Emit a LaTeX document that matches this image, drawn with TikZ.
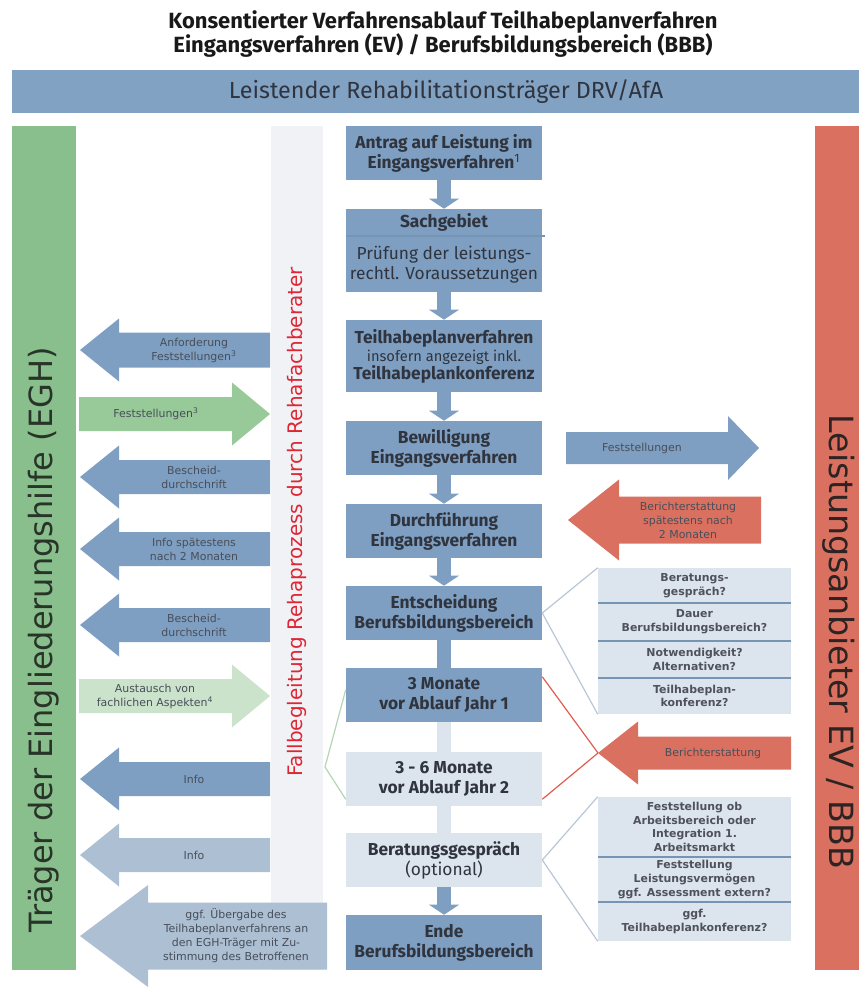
\documentclass[tikz,border=0pt]{standalone}
\usepackage{fontspec}
\setmainfont{Fira Sans}
\newfontfamily\dejavu{DejaVu Sans}
\usepackage{tikz}
\usetikzlibrary{arrows.meta,calc}

\definecolor{kopfblau}{RGB}{130,162,196}
\definecolor{boxblau}{RGB}{126,159,193}
\definecolor{hellblau}{RGB}{220,228,238}
\definecolor{graublau}{RGB}{172,191,211}
\definecolor{balkengruen}{RGB}{137,190,141}
\definecolor{pfeilgruen}{RGB}{152,201,152}
\definecolor{hellgruen}{RGB}{203,226,203}
\definecolor{lachs}{RGB}{218,113,96}
\definecolor{spalte}{RGB}{241,242,245}
\definecolor{textgrau}{RGB}{48,52,62}
\definecolor{pfeilschrift}{RGB}{72,78,90}
\definecolor{gruenschrift}{RGB}{40,52,40}
\definecolor{rotschrift}{RGB}{45,35,35}
\definecolor{rehrot}{RGB}{222,38,52}
\definecolor{linie}{RGB}{185,198,214}
\definecolor{linienrot}{RGB}{224,92,80}
\definecolor{liniengruen}{RGB}{180,212,180}
\definecolor{trennblau}{RGB}{118,148,180}

\tikzset{
  titel/.style={font=\bfseries\fontsize{16.5}{18}\selectfont, align=center, text=black!90},
  kopftext/.style={font=\fontsize{17.5}{18}\selectfont, text=textgrau},
  seitentext/.style={font=\dejavu\fontsize{24}{26}\selectfont},
  fallbegleitung/.style={font=\dejavu\fontsize{15}{16}\selectfont, text=rehrot},
  box/.style={rectangle, fill=boxblau, minimum width=147pt, minimum height=40.5pt, inner sep=1pt, align=center, text=textgrau, font=\bfseries\fontsize{13}{15}\selectfont},
  hellbox/.style={box, fill=hellblau},
  pfeiltext/.style={font=\dejavu\fontsize{8.2}{10.5}\selectfont, align=center, text=pfeilschrift, inner sep=0pt},
  zeile/.style={font=\dejavu\bfseries\fontsize{8.2}{10.3}\selectfont, align=center, text=textgrau!85, inner sep=0pt},
  tabelle/.style={rectangle, fill=hellblau, minimum width=144.75pt, inner sep=0pt},
  trenn/.style={draw=trennblau, line width=1pt},
  runter/.style={line width=10.5pt, -{Triangle[length=7.5pt,width=22.5pt,line width=0pt]}},
  steg/.style={line width=10.5pt},
  fuehrung/.style={draw=linie, line width=0.9pt},
  rotlinie/.style={draw=linienrot, line width=0.9pt},
  gruenlinie/.style={draw=liniengruen, line width=0.9pt}
}

\begin{document}
\begin{tikzpicture}[x=0.75pt,y=0.75pt,yscale=-1,xscale=1]
        \useasboundingbox (0,0) rectangle (859,987);

        % Titel
        \node[titel] (titel) at (443,34) {Konsentierter Verfahrensablauf Teilhabeplanverfahren\\Eingangsverfahren (EV) / Berufsbildungsbereich (BBB)};

        % Kopfbalken
        \fill[kopfblau] (12,70) rectangle (859,113);
        \node[kopftext] (kopf) at (446,92) {Leistender Rehabilitationsträger DRV/AfA};

        % Balken links (EGH)
        \fill[balkengruen] (12,126) rectangle (76,970);
        \node[seitentext, rotate=90, text=gruenschrift] (egh) at (44,640) {Träger der Eingliederungshilfe (EGH)};

        % Spalte Rehafachberater
        \fill[spalte] (271,126) rectangle (323,970);
        \node[fallbegleitung, rotate=90] (reha) at (297,522) {Fallbegleitung Rehaprozess durch Rehafachberater};

        % Balken rechts (Leistungsanbieter)
        \fill[lachs] (815,126) rectangle (859,970);
        \node[seitentext, rotate=-90, text=rotschrift, font=\dejavu\fontsize{25}{26}\selectfont] (anbieter) at (839,642) {Leistungsanbieter EV / BBB};

        % Ablauf Mitte
        \node[box] (antrag) at (444,153) {Antrag auf Leistung im\\Eingangsverfahren\textsuperscript{\mdseries 1}};
        \node[box, minimum height=62.25pt] (sach) at (444,250.5) {};
        \draw[trenn] (346,236) -- (545,236);
        \node[box, fill=none] (sachkopf) at (444,222) {Sachgebiet};
        \node[box, fill=none, font=\fontsize{13}{15}\selectfont] (pruefung) at (444,265) {Prüfung der leistungs-\\rechtl. Voraussetzungen};
        \node[box, minimum height=54pt, font=\bfseries\fontsize{13}{13.5}\selectfont] (tpv) at (444,356) {Teilhabeplanverfahren\\{\mdseries\fontsize{11}{13.5}\selectfont insofern angezeigt inkl.}\\Teilhabeplankonferenz};
        \node[box] (bew) at (444,448) {Bewilligung\\Eingangsverfahren};
        \node[box] (durch) at (444,531) {Durchführung\\Eingangsverfahren};
        \node[box] (entsch) at (444,613) {Entscheidung\\Berufsbildungsbereich};
        \node[box] (drei) at (444,695) {3 Monate\\vor Ablauf Jahr 1};
        \node[hellbox] (dreisechs) at (444,779) {3 - 6 Monate\\vor Ablauf Jahr 2};
        \node[hellbox] (berat) at (444,860) {Beratungsgespräch\\{\mdseries (optional)}};
        \node[box, minimum height=41.25pt] (ende) at (444,942.5) {Ende\\Berufsbildungsbereich};

        \draw[runter, draw=boxblau] (antrag) -- (sach);
        \draw[runter, draw=boxblau] (sach) -- (tpv);
        \draw[runter, draw=boxblau] (tpv) -- (bew);
        \draw[runter, draw=boxblau] (bew) -- (durch);
        \draw[runter, draw=boxblau] (durch) -- (entsch);
        \draw[steg, draw=boxblau] (entsch) -- (drei);
        \draw[steg, draw=hellblau] (drei) -- (dreisechs);
        \draw[steg, draw=hellblau] (dreisechs) -- (berat);
        \draw[runter, draw=boxblau] (berat) -- (ende);

        % Pfeile links
        \fill[boxblau] (270,332.5) -- (119,332.5) -- (119,318.5) -- (80,350) -- (119,381.5) -- (119,367.5) -- (270,367.5) -- cycle;
        \node[pfeiltext] (anf) at (194,350) {Anforderung\\Feststellungen\textsuperscript{3}};
        \fill[pfeilgruen] (79,397) -- (232,397) -- (232,382.5) -- (270,414) -- (232,445.5) -- (232,431) -- (79,431) -- cycle;
        \node[pfeiltext] (fest) at (156,414) {Feststellungen\textsuperscript{3}};
        \fill[boxblau] (270,460) -- (119,460) -- (119,445.5) -- (80,477) -- (119,508.5) -- (119,494) -- (270,494) -- cycle;
        \node[pfeiltext] (bescheid) at (194,477) {Bescheid-\\durchschrift};
        \fill[boxblau] (270,532) -- (119,532) -- (119,517.5) -- (80,549) -- (119,580.5) -- (119,566) -- (270,566) -- cycle;
        \node[pfeiltext] (infosp) at (194,549) {Info spätestens\\nach 2 Monaten};
        \fill[boxblau] (270,608) -- (119,608) -- (119,593.5) -- (80,625) -- (119,656.5) -- (119,642) -- (270,642) -- cycle;
        \node[pfeiltext] (bescheidb) at (194,625) {Bescheid-\\durchschrift};
        \fill[hellgruen] (79,679) -- (232,679) -- (232,664.5) -- (270,696) -- (232,727.5) -- (232,713) -- (79,713) -- cycle;
        \node[pfeiltext] (austausch) at (155,696) {Austausch von\\fachlichen Aspekten\textsuperscript{4}};
        \fill[boxblau] (270,762) -- (119,762) -- (119,747.5) -- (80,779) -- (119,810.5) -- (119,796) -- (270,796) -- cycle;
        \node[pfeiltext] (info) at (194,779) {Info};
        \fill[graublau] (270,838) -- (119,838) -- (119,823.5) -- (80,855) -- (119,886.5) -- (119,872) -- (270,872) -- cycle;
        \node[pfeiltext] (infob) at (194,855) {Info};
        \fill[graublau] (327,902.5) -- (148,902.5) -- (148,885) -- (80,936) -- (148,987) -- (148,969.5) -- (327,969.5) -- cycle;
        \node[pfeiltext] (uebergabe) at (236,936) {ggf. Übergabe des\\Teilhabeplanverfahrens an\\den EGH-Träger mit Zu-\\stimmung des Betroffenen};

        % Pfeile rechts
        \fill[boxblau] (566,432) -- (728,432) -- (728,416) -- (759,448) -- (728,480) -- (728,464) -- (566,464) -- cycle;
        \node[pfeiltext] (festr) at (642,448) {Feststellungen};
        \fill[lachs] (761,496.5) -- (619,496.5) -- (619,479.5) -- (568,520) -- (619,560.5) -- (619,543.5) -- (761,543.5) -- cycle;
        \node[pfeiltext] (bericht) at (688,520) {Berichterstattung\\spätestens nach\\2 Monaten};
        \fill[lachs] (791,736.5) -- (638,736.5) -- (638,721.5) -- (598,753) -- (638,784.5) -- (638,769.5) -- (791,769.5) -- cycle;
        \node[pfeiltext] (berichtb) at (713,753) {Berichterstattung};
        \coordinate (berichtspitze) at (598,753);

        % Fragen zur Entscheidung
        \node[tabelle, minimum height=109.5pt] (tab) at (694.5,641) {};
        \draw[trenn] (598,603) -- (791,603);
        \draw[trenn] (598,641) -- (791,641);
        \draw[trenn] (598,678) -- (791,678);
        \node[zeile] (frage1) at (694.5,585.5) {Beratungs-\\gespräch?};
        \node[zeile] (frage2) at (694.5,622) {Dauer\\Berufsbildungsbereich?};
        \node[zeile] (frage3) at (694.5,659.5) {Notwendigkeit?\\Alternativen?};
        \node[zeile] (frage4) at (694.5,696) {Teilhabeplan-\\konferenz?};

        % Fragen zum Beratungsgespraech
        \node[tabelle, minimum height=108pt] (tabb) at (694.5,869) {};
        \draw[trenn] (598,857) -- (791,857);
        \draw[trenn] (598,902) -- (791,902);
        \node[zeile] (punkt1) at (694.5,827) {Feststellung ob\\Arbeitsbereich oder\\Integration 1.\\Arbeitsmarkt};
        \node[zeile] (punkt2) at (694.5,879.5) {Feststellung\\Leistungsvermögen\\ggf. Assessment extern?};
        \node[zeile] (punkt3) at (694.5,921.5) {ggf.\\Teilhabeplankonferenz?};

        % Verbindungslinien
        \draw[fuehrung] (entsch.east) -- (tab.north west);
        \draw[fuehrung] (entsch.east) -- (tab.south west);
        \draw[rotlinie] ($(drei.north east)+(0,9)$) -- (berichtspitze);
        \draw[rotlinie] ($(dreisechs.south east)+(0,-7)$) -- (berichtspitze);
        \draw[gruenlinie] ($(drei.north west)+(0,22)$) -- (325,767) -- ($(dreisechs.south west)+(0,-7)$);
        \draw[fuehrung] (berat.east) -- (tabb.north west);
        \draw[fuehrung] (berat.east) -- (tabb.south west);

\end{tikzpicture}
\end{document}
